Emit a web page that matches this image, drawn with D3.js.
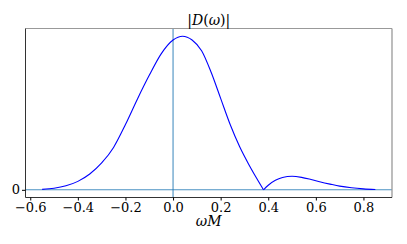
<!DOCTYPE html>
<html><head><meta charset="utf-8">
<script src="https://cdn.jsdelivr.net/npm/d3@7"></script>
<style>
html,body{margin:0;padding:0;background:#fff;}
text{font-family:"DejaVu Serif",serif;fill:#000;}
</style></head>
<body>
<svg id="c" width="407" height="244"></svg>
<script>
// main lobe of |D(ω)| (normalised)
const omegaMain = [-0.55,-0.50,-0.45,-0.40,-0.35,-0.30,-0.25,-0.20,-0.15,-0.10,-0.05,0.00,0.04,0.08,0.12,0.16,0.20,0.24,0.28,0.32,0.35,0.38];
const valueMain = [0.003,0.010,0.026,0.055,0.103,0.175,0.276,0.425,0.590,0.745,0.885,0.975,1.000,0.975,0.905,0.765,0.595,0.425,0.280,0.160,0.078,0.000];
// second lobe
const omegaSide = [0.38,0.40,0.43,0.46,0.50,0.54,0.58,0.62,0.66,0.70,0.75,0.80,0.85];
const valueSide = [0.000,0.030,0.062,0.080,0.088,0.081,0.067,0.051,0.037,0.024,0.013,0.006,0.002];
const xTicks = [-0.6,-0.4,-0.2,0.0,0.2,0.4,0.6,0.8];
const yTicks = [0];

const svg = d3.select("#c");
const L=25.5, R=392, T=28.5, B=197.5;
const x = d3.scaleLinear().domain([-0.62,0.92]).range([L,R]);
const y = d3.scaleLinear().domain([-0.05,1.05]).range([B,T]);

// reference lines at 0
svg.append("line").attr("x1",x(0)).attr("x2",x(0)).attr("y1",T).attr("y2",B)
  .attr("stroke","#1f77b4").attr("stroke-width",1.1).attr("opacity",0.8);
svg.append("line").attr("x1",L).attr("x2",R).attr("y1",y(0)).attr("y2",y(0))
  .attr("stroke","#1f77b4").attr("stroke-width",1.1).attr("opacity",0.8);

const line = d3.line().x(d=>x(d[0])).y(d=>y(d[1])).curve(d3.curveMonotoneX);
svg.append("path").attr("d",line(d3.zip(omegaMain,valueMain)))
  .attr("fill","none").attr("stroke","#0000ff").attr("stroke-width",1.1);
svg.append("path").attr("d",line(d3.zip(omegaSide,valueSide)))
  .attr("fill","none").attr("stroke","#0000ff").attr("stroke-width",1.1);

// frame
svg.append("line").attr("x1",L).attr("x2",R).attr("y1",T).attr("y2",T).attr("stroke","#999").attr("stroke-width",1.1);
svg.append("line").attr("x1",R).attr("x2",R).attr("y1",T).attr("y2",B).attr("stroke","#999").attr("stroke-width",1.3);
svg.append("line").attr("x1",L).attr("x2",L).attr("y1",T).attr("y2",B).attr("stroke","#333").attr("stroke-width",1);
svg.append("line").attr("x1",L).attr("x2",R).attr("y1",B).attr("y2",B).attr("stroke","#333").attr("stroke-width",1);

// x axis
const xAxis = d3.axisBottom(x).tickValues(xTicks).tickSize(3).tickPadding(2.2)
  .tickFormat(d=>d3.format(".1f")(d).replace("-","\u2212"));
const gx = svg.append("g").attr("transform",`translate(0,${B})`).call(xAxis);
gx.select(".domain").remove();
gx.selectAll("line").attr("stroke","#000");
gx.selectAll("text").attr("font-family","DejaVu Serif").attr("font-size","13px").attr("fill","#000");

// y axis
const yAxis = d3.axisLeft(y).tickValues(yTicks).tickSize(3.5).tickPadding(2).tickFormat(d3.format("d"));
const gy = svg.append("g").attr("transform",`translate(${L},0)`).call(yAxis);
gy.select(".domain").remove();
gy.selectAll("line").attr("stroke","#000");
gy.selectAll("text").attr("font-family","DejaVu Serif").attr("font-size","13px").attr("fill","#000");

// title
const title = svg.append("text").attr("x",(L+R)/2).attr("y",25).attr("text-anchor","middle").attr("font-size","14px");
title.append("tspan").text("|");
title.append("tspan").attr("font-style","italic").text("D");
title.append("tspan").text("(");
title.append("tspan").attr("font-style","italic").text("ω");
title.append("tspan").text(")|");

// x label
const xl = svg.append("text").attr("x",(L+R)/2).attr("y",226).attr("text-anchor","middle").attr("font-size","14px").attr("font-style","italic");
xl.text("ωM");
</script>
</body></html>
